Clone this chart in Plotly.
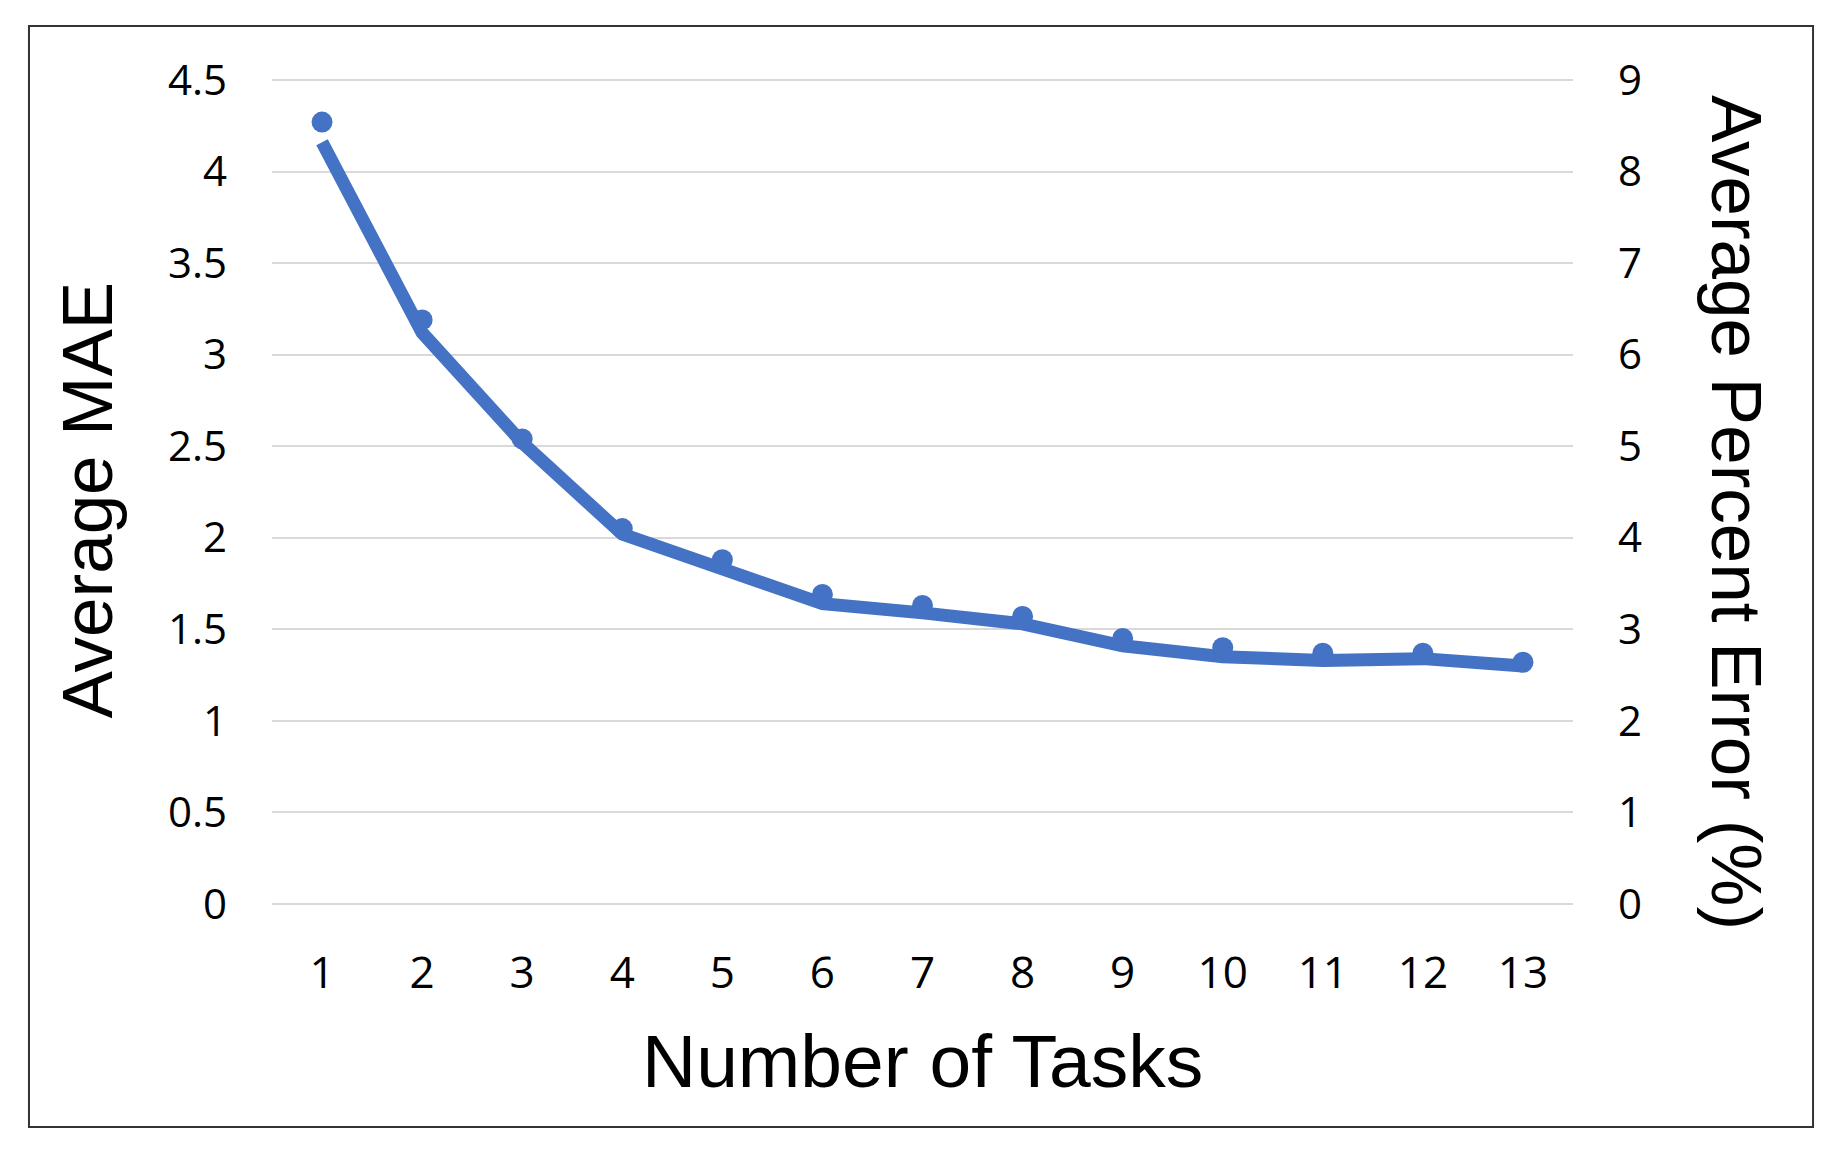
import plotly.graph_objects as go

# number of tasks on the x axis
tasks = [str(i) for i in range(1, 13 + 1)]

# average MAE (left axis, thick line)
avg_mae = [4.16, 3.12, 2.52, 2.02, 1.83, 1.64, 1.59, 1.53, 1.41, 1.35, 1.33, 1.34, 1.30]

# average percent error (right axis, markers)
avg_pct_error = [8.54, 6.38, 5.08, 4.10, 3.76, 3.38, 3.26, 3.14, 2.90, 2.80, 2.74, 2.74, 2.64]

mae_ticks = [0, 0.5, 1, 1.5, 2, 2.5, 3, 3.5, 4, 4.5]
mae_tick_text = ['0', '0.5', '1', '1.5', '2', '2.5', '3', '3.5', '4', '4.5']
pct_ticks = list(range(0, 10))

blue = '#4472C4'
tick_font = dict(family='Open Sans', size=42, color='#000000')
title_font = dict(family='Liberation Sans, Arial', size=71, color='#000000')

fig = go.Figure()

fig.add_trace(go.Scatter(
    x=tasks, y=avg_pct_error, yaxis='y2', mode='markers',
    marker=dict(size=21, color=blue), name='Average Percent Error (%)'))

fig.add_trace(go.Scatter(
    x=tasks, y=avg_mae, mode='lines',
    line=dict(color=blue, width=13), name='Average MAE'))

# page body has an 8px margin, so the figure is a bit smaller than the window.
# ranges padded a little so the 0 and 4.5 gridlines are drawn
pad = 0.0164
fig.update_layout(
    width=1832, height=1156,
    margin=dict(l=264, r=267, t=69, b=257),
    paper_bgcolor='white', plot_bgcolor='white',
    showlegend=False,
    xaxis=dict(
        type='category', range=[-0.5, 12.5],
        showgrid=False, zeroline=False, showline=False,
        tickfont=dict(family='Open Sans', size=44, color='#000000'),
        ticks='', ticklabelstandoff=36),
    yaxis=dict(
        range=[-pad, 4.5 + pad], tickvals=mae_ticks, ticktext=mae_tick_text,
        showgrid=True, gridcolor='#d9d9d9', gridwidth=2,
        zeroline=False, showline=False,
        tickfont=tick_font, ticks='', ticklabelstandoff=44),
    yaxis2=dict(
        range=[-2 * pad, 9 + 2 * pad], tickvals=pct_ticks, overlaying='y', side='right',
        showgrid=False, zeroline=False, showline=False,
        tickfont=tick_font, ticks='', ticklabelstandoff=44),
)

# axis titles (paper coords of the slightly taller plot box)
fig.add_annotation(text='Average MAE', x=-0.142, y=0.49, xref='paper', yref='paper',
                   textangle=-90, showarrow=False, font=title_font,
                   xanchor='center', yanchor='middle')
fig.add_annotation(text='Average Percent Error (%)', x=1.1253, y=0.476, xref='paper', yref='paper',
                   textangle=90, showarrow=False, font=title_font,
                   xanchor='center', yanchor='middle')
fig.add_annotation(text='Number of Tasks', x=0.5, y=-0.186, xref='paper', yref='paper',
                   showarrow=False, font=dict(title_font, size=75),
                   xanchor='center', yanchor='middle')

# frame around the whole chart
fig.add_shape(type='rect', xref='paper', yref='paper',
              x0=-0.1868, x1=1.1845, y0=-0.2651, y1=1.0614,
              line=dict(color='#333333', width=2), fillcolor='rgba(0,0,0,0)')

fig.write_html('out.html')
